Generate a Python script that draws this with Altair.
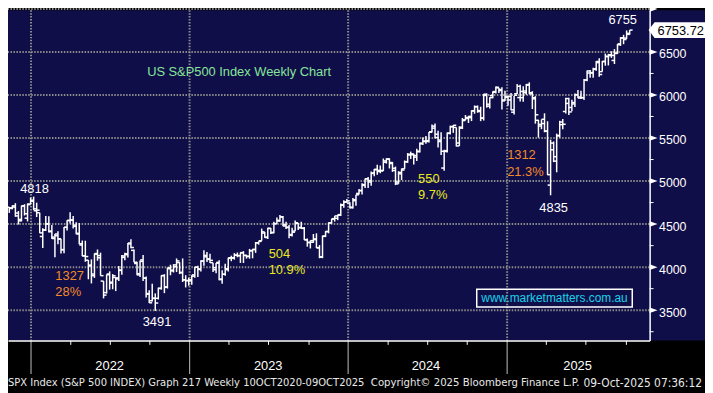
import altair as alt
import pandas as pd

# ---------------- data (weekly OHLC, S&P 500, read/estimated from the picture) ----------------
first_week = "2021-11-12"

bar_open = [
    4697, 4689, 4712, 4628, 4554, 4710, 4569, 4733,
    # 2022
    4778, 4655, 4632, 4356, 4431, 4505, 4412, 4332, 4364, 4327, 4202, 4462, 4541,
    4548, 4474, 4385, 4257, 4130, 4081, 4013, 3920, 4151, 4134, 3838, 3704, 3920,
    3815, 3880, 3875, 3965, 4113, 4155, 4270, 4195, 4041, 3910, 4084, 3871, 3686,
    3610, 3636, 3638, 3754, 3902, 3766, 3982, 3956, 4005, 4053, 3940, 3853, 3843,
    # 2023
    3853, 3910, 3999, 3979, 4070, 4120, 4097, 4052, 3993, 4055, 3855, 3917, 3982,
    4102, 4110, 4140, 4134, 4166, 4136, 4126, 4190, 4205, 4283, 4308, 4396, 4344,
    4450, 4404, 4505, 4543, 4585, 4492, 4460, 4380, 4419, 4510, 4461, 4453, 4316,
    4285, 4289, 4320, 4226, 4120, 4361, 4412, 4513, 4563, 4568, 4610, 4725, 4758,
    # 2024
    4745, 4690, 4772, 4856, 4888, 4950, 5026, 4989, 5093, 5131, 5111, 5123, 5219,
    5257, 5215, 5149, 4988, 5084, 5142, 5225, 5311, 5316, 5297, 5341, 5440, 5459,
    5471, 5573, 5638, 5544, 5476, 5151, 5353, 5557, 5630, 5623, 5442, 5615, 5711,
    5727, 5737, 5816, 5863, 5819, 5733, 6009, 5893, 5992, 6040, 6083, 6064, 5942,
    # 2025
    5982, 5982, 5800, 6014, 5970, 5969, 6046, 6121, 6026, 5969, 5706, 5658, 5718,
    5578, 4953, 5441, 5232, 5530, 5655, 5808, 5902, 5855, 5896, 6004, 5964, 5970,
    6173, 6255, 6255, 6304, 6376, 6271, 6389, 6445, 6457, 6401, 6485, 6594, 6660,
    6661, 6704,
]
bar_high = [
    4699, 4718, 4743, 4652, 4713, 4731, 4740, 4808,
    # 2022
    4819, 4749, 4632, 4453, 4595, 4590, 4490, 4386, 4416, 4329, 4465, 4546, 4637,
    4593, 4521, 4513, 4309, 4307, 4082, 4090, 4158, 4205, 4168, 3838, 3913, 3951,
    3919, 3880, 4013, 4140, 4167, 4280, 4325, 4204, 4062, 4077, 4140, 3891, 3732,
    3807, 3695, 3762, 3905, 3918, 3993, 4028, 4034, 4101, 4057, 4101, 3906, 3878,
    # 2023
    3906, 4003, 4015, 4079, 4195, 4176, 4156, 4052, 4049, 4079, 3964, 4039, 4110,
    4133, 4163, 4170, 4170, 4186, 4143, 4212, 4212, 4291, 4299, 4448, 4408, 4458,
    4456, 4527, 4578, 4607, 4595, 4528, 4490, 4458, 4541, 4514, 4527, 4466, 4333,
    4310, 4385, 4393, 4256, 4366, 4418, 4521, 4560, 4595, 4609, 4739, 4778, 4793,
    # 2024
    4755, 4803, 4842, 4907, 4975, 5030, 5048, 5111, 5140, 5189, 5180, 5262, 5265,
    5264, 5222, 5168, 5114, 5146, 5239, 5325, 5342, 5316, 5375, 5447, 5506, 5524,
    5570, 5656, 5670, 5585, 5566, 5365, 5563, 5643, 5651, 5623, 5636, 5733, 5767,
    5758, 5822, 5878, 5878, 5863, 6013, 6018, 5973, 6044, 6099, 6085, 6091, 6050,
    # 2025
    5993, 6022, 5987, 6128, 6120, 6101, 6128, 6147, 6044, 5986, 5712, 5715, 5787,
    5695, 5481, 5460, 5551, 5700, 5720, 5969, 5968, 5944, 6016, 6059, 6050, 6187,
    6284, 6290, 6315, 6395, 6427, 6395, 6481, 6478, 6508, 6533, 6592, 6672, 6699,
    6750, 6755,
]
bar_low = [
    4630, 4672, 4585, 4495, 4531, 4600, 4531, 4733,
    # 2022
    4662, 4582, 4395, 4223, 4419, 4401, 4327, 4115, 4267, 4157, 4161, 4425, 4507,
    4450, 4381, 4267, 4128, 4062, 3859, 3811, 3875, 4074, 3900, 3637, 3693, 3739,
    3743, 3722, 3838, 3911, 4080, 4112, 4218, 4057, 3907, 3886, 3838, 3647, 3584,
    3602, 3491, 3624, 3738, 3698, 3751, 3906, 3938, 3943, 3919, 3827, 3764, 3784,
    # 2023
    3794, 3877, 3885, 3949, 4015, 4060, 4047, 3944, 3928, 3847, 3808, 3901, 3950,
    4069, 4087, 4114, 4049, 4048, 4099, 4098, 4103, 4166, 4261, 4307, 4341, 4328,
    4385, 4394, 4503, 4528, 4474, 4443, 4335, 4356, 4417, 4431, 4448, 4316, 4238,
    4217, 4283, 4223, 4104, 4104, 4349, 4393, 4506, 4529, 4546, 4593, 4689, 4751,
    # 2024
    4682, 4682, 4714, 4844, 4845, 4918, 4920, 4946, 5057, 5074, 5091, 5118, 5203,
    5146, 5107, 4953, 4969, 5011, 5142, 5211, 5257, 5191, 5234, 5331, 5420, 5433,
    5448, 5564, 5497, 5391, 5302, 5120, 5331, 5540, 5560, 5402, 5407, 5604, 5706,
    5675, 5697, 5782, 5794, 5696, 5703, 5853, 5842, 5963, 6018, 6024, 5832, 5930,
    # 2025
    5874, 5822, 5773, 6011, 5923, 5921, 6003, 6009, 5837, 5667, 5505, 5603, 5567,
    5069, 4835, 5220, 5102, 5505, 5603, 5786, 5768, 5810, 5861, 5963, 5952, 5943,
    6159, 6201, 6201, 6281, 6212, 6271, 6340, 6343, 6431, 6360, 6477, 6570, 6590,
    6651, 6699,
]
bar_close = [
    4682, 4698, 4595, 4538, 4712, 4620, 4726, 4766,
    # 2022
    4677, 4662, 4398, 4432, 4500, 4419, 4349, 4385, 4329, 4204, 4463, 4543, 4546,
    4488, 4393, 4272, 4132, 4123, 4024, 3901, 4158, 4109, 3901, 3675, 3912, 3825,
    3899, 3863, 3962, 4130, 4145, 4280, 4228, 4057, 3924, 4067, 3873, 3693, 3586,
    3640, 3583, 3753, 3901, 3771, 3993, 3965, 4026, 4072, 3934, 3852, 3845, 3840,
    # 2023
    3895, 3999, 3973, 4071, 4136, 4090, 4079, 3970, 4046, 3862, 3917, 3971, 4109,
    4105, 4138, 4133, 4169, 4136, 4124, 4192, 4205, 4282, 4299, 4410, 4348, 4450,
    4399, 4505, 4536, 4582, 4478, 4464, 4370, 4406, 4515, 4457, 4450, 4320, 4288,
    4308, 4327, 4224, 4117, 4358, 4415, 4514, 4559, 4595, 4604, 4719, 4755, 4770,
    # 2024
    4697, 4784, 4840, 4891, 4959, 5027, 5006, 5089, 5137, 5124, 5117, 5234, 5254,
    5204, 5123, 4967, 5100, 5128, 5223, 5303, 5305, 5278, 5347, 5432, 5465, 5460,
    5567, 5615, 5505, 5459, 5346, 5344, 5554, 5634, 5648, 5408, 5626, 5703, 5738,
    5751, 5815, 5865, 5808, 5729, 5995, 5870, 5969, 6032, 6090, 6051, 5931, 5971,
    # 2025
    5942, 5827, 5997, 6101, 6041, 6026, 6115, 6013, 5955, 5770, 5639, 5668, 5581,
    5074, 5363, 5283, 5525, 5686, 5660, 5958, 5803, 5912, 6000, 5977, 5968, 6173,
    6279, 6260, 6297, 6389, 6238, 6389, 6450, 6467, 6460, 6482, 6584, 6664, 6644,
    6716, 6754,
]

last_price = [6753.72]
price_levels = [3500, 4000, 4500, 5000, 5500, 6000, 6500, 7000]
minor_levels = [3250, 3750, 4250, 4750, 5250, 5750, 6250, 6750]
year_starts = ["2022-01-01", "2023-01-01", "2024-01-01", "2025-01-01"]
year_labels = ["2022", "2023", "2024", "2025"]
year_label_dates = ["2022-07-01", "2023-07-01", "2024-06-28", "2025-06-12"]

note_center_text = ["4818", "3491", "4835", "6755"]
note_center_date = ["2022-01-09", "2022-10-18", "2025-04-18", "2025-09-24"]
note_center_value = [4903, 3364, 4685, 6867]

note_left_text = ["1327", "28%", "504", "10.9%", "550", "9.7%", "1312", "21.3%"]
note_left_date = ["2022-02-26", "2022-02-26", "2023-07-02", "2023-07-02",
                  "2024-06-10", "2024-06-10", "2025-01-01", "2025-01-01"]
note_left_value = [3899, 3715, 4148, 3968, 5018, 4841, 5297, 5105]
note_left_color = ["#f28a2a", "#f28a2a", "#e9e921", "#e9e921",
                   "#e9e921", "#e9e921", "#f28a2a", "#f28a2a"]

title_text = ["US S&P500 Index Weekly Chart"]
title_date = ["2023-04-25"]
title_value = [6261]

site_text = ["www.marketmatters.com.au"]
site_box = {"x0": ["2024-10-23"], "x1": ["2025-10-16"], "y0": [3743], "y1": [3536]}
site_center = {"date": ["2025-04-20"], "value": [3640]}

footer_left = "SPX Index (S&P 500 INDEX) Graph 217 Weekly 10OCT2020-09OCT2025"
footer_mid = "Copyright\u00a9 2025 Bloomberg Finance L.P."
footer_right = "09-Oct-2025 07:36:12"

# ---------------- styles ----------------
NAVY = "#100e48"
GRID = "#8c8c8c"
WHITE = "#ffffff"
FONT = "Liberation Sans"
NARROW = "Liberation Sans Narrow, DejaVu Sans Condensed, Arial Narrow, sans-serif"
W, H = 649, 334

dates = pd.date_range(first_week, periods=len(bar_close), freq="W-FRI")
ohlc = pd.DataFrame({"date": dates, "open": bar_open, "high": bar_high,
                     "low": bar_low, "close": bar_close})

x_scale = alt.Scale(domain=[alt.DateTime(year=2021, month=11, date=9),
                            alt.DateTime(year=2025, month=11, date=25)], nice=False)
y_scale = alt.Scale(domain=[3149, 6985], nice=False, zero=False)

quarter_ticks = [alt.DateTime(year=y, month=m, date=1)
                 for y in (2022, 2023, 2024, 2025) for m in (4, 7, 10)]

x_axis = alt.Axis(orient="bottom", values=quarter_ticks, labels=False, title=None,
                  grid=False, domain=True, domainColor=WHITE, domainWidth=1.5,
                  ticks=True, tickColor=WHITE, tickSize=4, tickWidth=1, zindex=1)
y_axis = alt.Axis(orient="right", values=price_levels, title=None, grid=False,
                  domain=True, domainColor=WHITE, domainWidth=1.5,
                  ticks=True, tickSize=8, tickOpacity=0, labelPadding=1,
                  labelColor=WHITE, labelFont=FONT, labelFontSize=12.5,
                  labelAlign="left", labelBaseline="middle", labelOffset=2,
                  labelOverlap=False, labelFlush=False, format="d", zindex=1)


def X(field):
    return alt.X(f"{field}:T", scale=x_scale, axis=x_axis)


def Y(field):
    return alt.Y(f"{field}:Q", scale=y_scale, axis=y_axis)


one = pd.DataFrame({"k": [0]})

background = alt.Chart(one).mark_rect(color=NAVY).encode(
    x=alt.value(0), x2=alt.value(W + 56), y=alt.value(0), y2=alt.value(H))

levels_df = pd.DataFrame({"level": price_levels})
minor_df = pd.DataFrame({"level": minor_levels})
years_df = pd.DataFrame({"start": pd.to_datetime(year_starts)})

hgrid = alt.Chart(levels_df).mark_rule(color=GRID, strokeDash=[1.5, 1.5], strokeWidth=2).encode(
    y=Y("level"))
vgrid = alt.Chart(years_df).mark_rule(color=GRID, strokeDash=[1.5, 1.5], strokeWidth=2).encode(
    x=X("start"))
year_sep = alt.Chart(years_df).mark_rule(color="#a0a0a0", strokeWidth=1.2).encode(
    x=X("start"), y=alt.value(H), y2=alt.value(H + 34))

base = alt.Chart(ohlc)
hl = base.mark_rule(color=WHITE, strokeWidth=1.5).encode(x=X("date"), y=Y("low"), y2="high")
op = base.mark_tick(color=WHITE, orient="horizontal", size=3, thickness=1.5,
                    xOffset=-1.5, opacity=1).encode(x=X("date"), y=Y("open"))
cl = base.mark_tick(color=WHITE, orient="horizontal", size=3, thickness=1.5,
                    xOffset=1.5, opacity=1).encode(x=X("date"), y=Y("close"))

minor_ticks = alt.Chart(minor_df).mark_rule(color=WHITE, strokeWidth=1).encode(
    y=Y("level"), x=alt.value(W), x2=alt.value(W + 4))
arrows = alt.Chart(levels_df).mark_point(shape="M-1,-0.7L1,0L-1,0.7Z", filled=True,
                                         color=WHITE, size=64, opacity=1, strokeWidth=0).encode(
    y=Y("level"), x=alt.value(W + 4))

title_df = pd.DataFrame({"text": title_text, "date": pd.to_datetime(title_date), "value": title_value})
title_layer = alt.Chart(title_df).mark_text(font=FONT, fontSize=13, color="#86e59a",
                                            align="center", baseline="middle").encode(
    x=X("date"), y=Y("value"), text="text:N")

center_df = pd.DataFrame({"text": note_center_text, "date": pd.to_datetime(note_center_date),
                          "value": note_center_value})
center_layer = alt.Chart(center_df).mark_text(font=FONT, fontSize=13, color=WHITE,
                                              align="center", baseline="middle").encode(
    x=X("date"), y=Y("value"), text="text:N")

left_df = pd.DataFrame({"text": note_left_text, "date": pd.to_datetime(note_left_date),
                        "value": note_left_value, "color": note_left_color})
left_layer = alt.Chart(left_df).mark_text(font=FONT, fontSize=13, align="left",
                                          baseline="middle").encode(
    x=X("date"), y=Y("value"), text="text:N", color=alt.Color("color:N", scale=None))

box_df = pd.DataFrame({"x0": pd.to_datetime(site_box["x0"]), "x1": pd.to_datetime(site_box["x1"]),
                       "y0": site_box["y0"], "y1": site_box["y1"]})
site_rect = alt.Chart(box_df).mark_rect(fillOpacity=0, stroke=WHITE, strokeWidth=1.5).encode(
    x=X("x0"), x2="x1", y=Y("y0"), y2="y1")
site_df = pd.DataFrame({"text": site_text, "date": pd.to_datetime(site_center["date"]),
                        "value": site_center["value"]})
site_label = alt.Chart(site_df).mark_text(font=FONT, fontSize=12, color="#19d2ea",
                                          align="center", baseline="middle").encode(
    x=X("date"), y=Y("value"), text="text:N")

price_df = pd.DataFrame({"price": last_price, "text": [f"{p:.2f}" for p in last_price]})
price_tag = alt.Chart(price_df).mark_point(
    shape="M-1,0L-0.79,-0.28L1,-0.28L1,0.28L-0.79,0.28Z", filled=True, color=WHITE,
    size=57 * 57, opacity=1, strokeWidth=0).encode(y=Y("price"), x=alt.value(W + 27.5))
price_text = alt.Chart(price_df).mark_text(font=FONT, fontSize=13, color="#000000",
                                           align="left", baseline="middle", dy=0.5).encode(
    y=Y("price"), x=alt.value(W + 8), text="text:N")

ylab_df = pd.DataFrame({"label": year_labels, "date": pd.to_datetime(year_label_dates)})
year_text = alt.Chart(ylab_df).mark_text(font=FONT, fontSize=13, color=WHITE,
                                         align="center", baseline="middle").encode(
    x=X("date"), y=alt.value(H + 26), text="label:N")

foot_df = pd.DataFrame({"a": [footer_left], "b": [footer_mid], "c": [footer_right]})
foot_l = alt.Chart(foot_df).mark_text(font=NARROW, fontSize=11.2, color="#e8e8e8", align="left",
                                      baseline="middle").encode(
    x=alt.value(0), y=alt.value(H + 43), text="a:N")
foot_m = alt.Chart(foot_df).mark_text(font=NARROW, fontSize=11.4, color="#e8e8e8", align="left",
                                      baseline="middle").encode(
    x=alt.value(367), y=alt.value(H + 43), text="b:N")
foot_r = alt.Chart(foot_df).mark_text(font=NARROW, fontSize=12, color="#e8e8e8", align="right",
                                      baseline="middle").encode(
    x=alt.value(702), y=alt.value(H + 43), text="c:N")

chart = alt.layer(
    background, hgrid, vgrid, year_sep, hl, op, cl, minor_ticks, arrows,
    title_layer, center_layer, left_layer, site_rect, site_label,
    price_tag, price_text, year_text, foot_l, foot_m, foot_r,
).properties(
    width=W, height=H,
    autosize=alt.AutoSizeParams(type="none"),
    padding={"left": 0, "top": 0, "right": 56, "bottom": 51},
    background="#000000",
).configure_view(stroke=None)

chart.save("out.html", embed_options={"renderer": "svg", "actions": False})
